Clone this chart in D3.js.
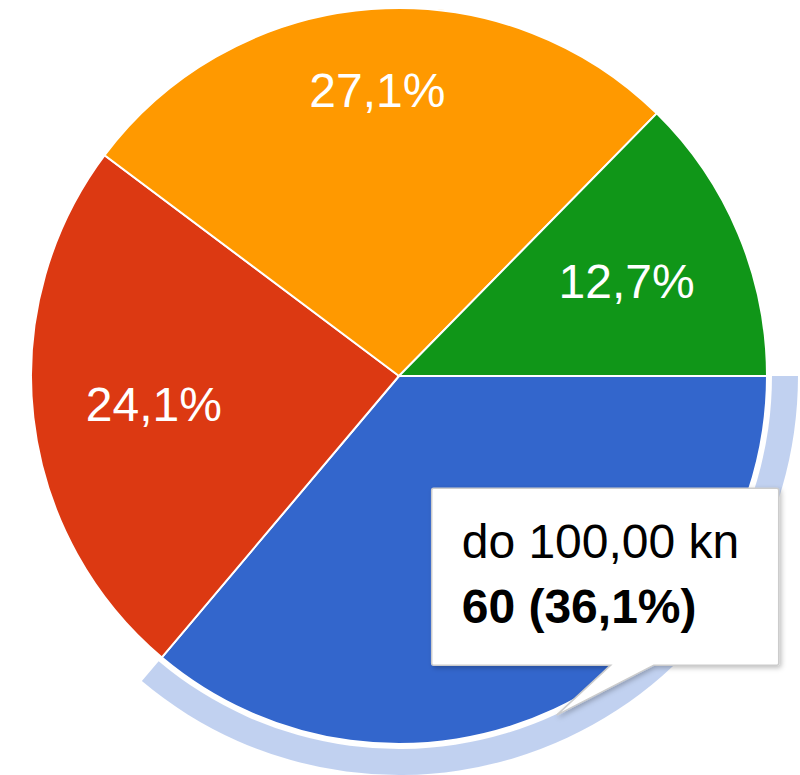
<!DOCTYPE html>
<html>
<head>
<meta charset="utf-8">
<script src="https://cdn.jsdelivr.net/npm/d3@7"></script>
<style>
  body { margin: 0; background: #fff; }
  text { font-family: "Liberation Sans", Arial, sans-serif; }
</style>
</head>
<body>
<div id="chart"></div>
<script>
// slices, in drawing order (clockwise from 3 o'clock)
const categories = ['do 100,00 kn', '100,01 - 200,00 kn', '200,01 - 500,00 kn', 'više od 500,00 kn'];
const counts = [60, 40, 45, 21];
const colors = ['#3366cc', '#dc3912', '#ff9900', '#109618'];
const selected = 0; // slice with the halo + tooltip

const width = 800, height = 775;
const cx = 399, cy = 376, r = 368;
const fontSize = 48;

const total = d3.sum(counts);
const fmtPct = v => (v / total * 100).toFixed(1).replace('.', ',') + '%';

const data = categories.map((c, i) => ({name: c, value: counts[i], color: colors[i]}));

const pie = d3.pie()
    .sort(null)
    .value(d => d.value)
    .startAngle(Math.PI / 2)
    .endAngle(Math.PI / 2 + 2 * Math.PI);

const arcs = pie(data);
const arc = d3.arc().innerRadius(0).outerRadius(r);
const halo = d3.arc().innerRadius(r + 5).outerRadius(r + 31);

const svg = d3.select('#chart')
    .append('svg')
    .attr('width', width)
    .attr('height', height);

const defs = svg.append('defs');
defs.append('filter')
    .attr('id', 'shadow')
    .attr('x', '-10%').attr('y', '-10%')
    .attr('width', '130%').attr('height', '130%')
  .append('feDropShadow')
    .attr('dx', 2).attr('dy', 2)
    .attr('stdDeviation', 2.5)
    .attr('flood-color', '#000')
    .attr('flood-opacity', 0.25);

const g = svg.append('g').attr('transform', `translate(${cx},${cy})`);

// halo around the selected slice
g.append('path')
    .attr('d', halo(arcs[selected]))
    .attr('fill', colors[selected])
    .attr('fill-opacity', 0.3);

g.selectAll('path.slice')
  .data(arcs)
  .join('path')
    .attr('class', 'slice')
    .attr('d', arc)
    .attr('fill', d => d.data.color)
    .attr('stroke', '#fff')
    .attr('stroke-width', 2);

// percentage labels (the selected one sits under the tooltip, so skip it):
// pushed outward along the mid-angle until the text box's farthest
// corner reaches ~0.86 r
const labels = g.selectAll('text.lbl')
  .data(arcs.filter(d => d.index !== selected))
  .join('text')
    .attr('class', 'lbl')
    .attr('fill', '#fff')
    .attr('font-size', fontSize)
    .attr('text-anchor', 'middle')
    .text(d => fmtPct(d.data.value));

labels.each(function(d) {
  const w = this.getComputedTextLength();
  const h = fontSize * 0.716;
  const a = (d.startAngle + d.endAngle) / 2;
  const sx = Math.sin(a), sy = -Math.cos(a);
  const far = dist => {
    const x = dist * sx, y = dist * sy;
    let m = 0;
    for (const ox of [-w / 2, w / 2]) for (const oy of [-h / 2, h / 2]) {
      m = Math.max(m, Math.hypot(x + ox, y + oy));
    }
    return m;
  };
  let lo = 0, hi = r;
  for (let k = 0; k < 40; k++) {
    const mid = (lo + hi) / 2;
    if (far(mid) < 0.86 * r) lo = mid; else hi = mid;
  }
  d3.select(this)
      .attr('x', lo * sx)
      .attr('y', lo * sy + h / 2);
});

// tooltip for the selected slice
const sel = arcs[selected];
const ma = (sel.startAngle + sel.endAngle) / 2;
const tip = [(r + 6) * Math.sin(ma), -(r + 6) * Math.cos(ma)];
const bx0 = tip[0] - 125, by0 = tip[1] - 227;
const bx1 = bx0 + 347, by1 = by0 + 177;
const t0 = tip[0] + 54, t1 = tip[0] + 97;
const rc = 2;

const tipPath = d3.path();
tipPath.moveTo(bx0 + rc, by0);
tipPath.lineTo(bx1 - rc, by0);
tipPath.quadraticCurveTo(bx1, by0, bx1, by0 + rc);
tipPath.lineTo(bx1, by1 - rc);
tipPath.quadraticCurveTo(bx1, by1, bx1 - rc, by1);
tipPath.lineTo(t1, by1);
tipPath.lineTo(tip[0], tip[1]);
tipPath.lineTo(t0, by1);
tipPath.lineTo(bx0 + rc, by1);
tipPath.quadraticCurveTo(bx0, by1, bx0, by1 - rc);
tipPath.lineTo(bx0, by0 + rc);
tipPath.quadraticCurveTo(bx0, by0, bx0 + rc, by0);
tipPath.closePath();

const tt = g.append('g');
tt.append('path')
    .attr('d', tipPath.toString())
    .attr('fill', '#fff')
    .attr('stroke', '#cccccc')
    .attr('stroke-width', 1.5)
    .attr('filter', 'url(#shadow)');

tt.append('text')
    .attr('x', bx0 + 30)
    .attr('y', by0 + 70)
    .attr('font-size', fontSize)
    .attr('fill', '#000')
    .text(sel.data.name);

tt.append('text')
    .attr('x', bx0 + 30)
    .attr('y', by0 + 135)
    .attr('font-size', fontSize)
    .attr('font-weight', 'bold')
    .attr('fill', '#000')
    .text(`${sel.data.value} (${fmtPct(sel.data.value)})`);
</script>
</body>
</html>
